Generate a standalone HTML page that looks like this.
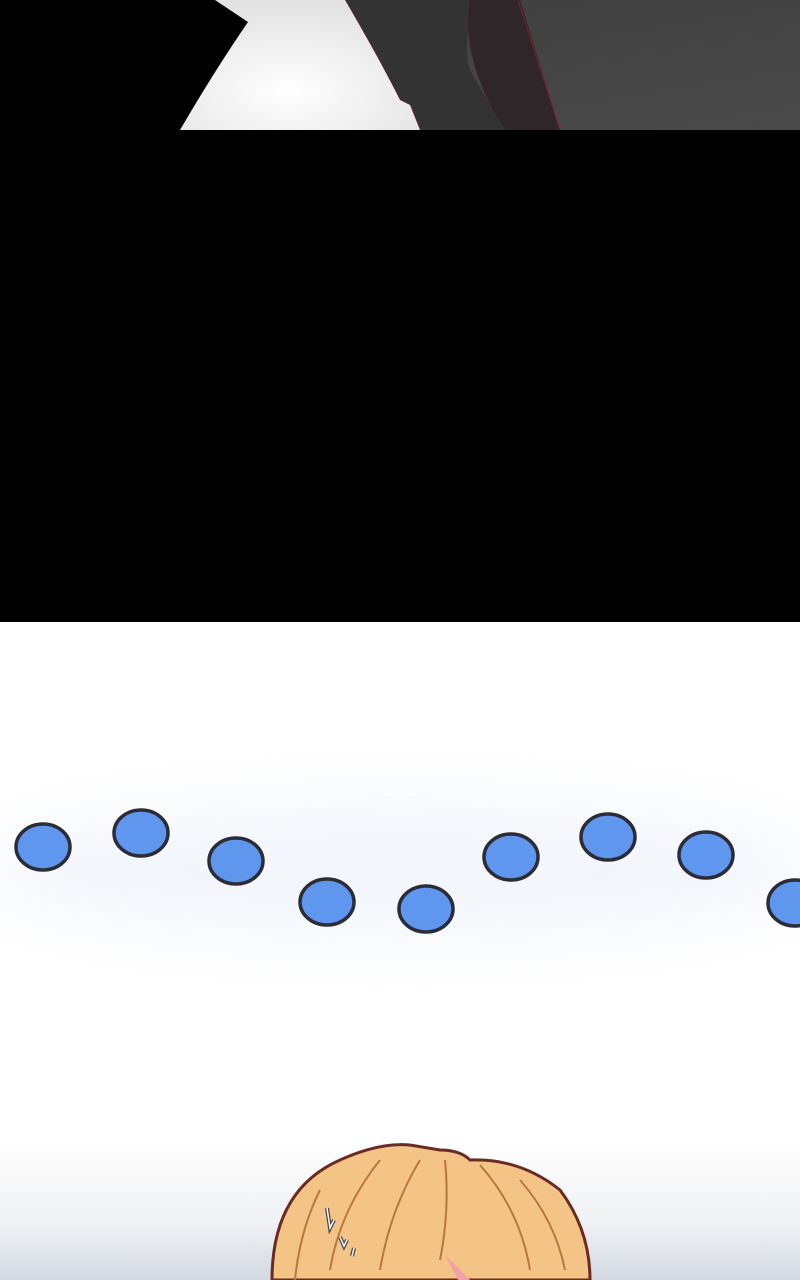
<!DOCTYPE html>
<html><head><style>html,body{margin:0;padding:0;width:800px;height:1280px;overflow:hidden;background:#fff}</style></head>
<body>
<svg width="800" height="1280" viewBox="0 0 800 1280" xmlns="http://www.w3.org/2000/svg">
<defs>
<linearGradient id="top" x1="0" y1="0" x2="1" y2="1"><stop offset="0" stop-color="#3c3c3c"/><stop offset="1" stop-color="#4a4a4a"/></linearGradient>
<radialGradient id="wht" cx="0.45" cy="0.7" r="0.7"><stop offset="0" stop-color="#fff"/><stop offset="1" stop-color="#e2e2e2"/></radialGradient>
<linearGradient id="bot" x1="0" y1="0" x2="0" y2="1"><stop offset="0" stop-color="#fff"/><stop offset="0.6" stop-color="#f0f1f3"/><stop offset="1" stop-color="#d3d8e2"/></linearGradient>
<filter id="glow" x="-50%" y="-50%" width="200%" height="200%"><feGaussianBlur stdDeviation="30"/></filter>
</defs>
<rect x="0" y="0" width="800" height="130" fill="url(#top)"/>
<path d="M340,0 L480,0 Q460,40 470,70 L505,130 L415,130 Q380,60 340,0 Z" fill="#333"/>
<path d="M470,0 L520,0 L560,130 L505,130 Q460,60 470,0 Z" fill="#2e2629"/>
<path d="M518,0 L560,130" stroke="#8a1a34" stroke-width="1"/>
<path d="M345,0 Q380,60 400,100 L410,105 L420,130" fill="none" stroke="#7a1a30" stroke-width="1"/>
<path d="M0,0 L215,0 L248,22 L225,70 L180,130 L0,130 Z" fill="#000"/>
<path d="M215,0 L345,0 Q380,60 400,100 L410,105 L420,130 L180,130 Q215,70 248,22 Z" fill="url(#wht)"/>
<rect x="0" y="130" width="800" height="492" fill="#000"/>
<rect x="0" y="622" width="800" height="658" fill="#fff"/>
<rect x="0" y="1140" width="800" height="140" fill="url(#bot)"/>
<ellipse cx="400" cy="870" rx="420" ry="70" fill="#eef2f9" filter="url(#glow)" opacity="0.7"/>
<g fill="#5f96ee" stroke="#2c2c36" stroke-width="3.5">
<ellipse cx="43" cy="847" rx="27" ry="23"/>
<ellipse cx="141" cy="833" rx="27" ry="23"/>
<ellipse cx="236" cy="861" rx="27" ry="23"/>
<ellipse cx="327" cy="902" rx="27" ry="23"/>
<ellipse cx="426" cy="909" rx="27" ry="23"/>
<ellipse cx="511" cy="857" rx="27" ry="23"/>
<ellipse cx="608" cy="837" rx="27" ry="23"/>
<ellipse cx="706" cy="855" rx="27" ry="23"/>
<ellipse cx="795" cy="903" rx="27" ry="23"/>
</g>
<path d="M272,1280 Q272,1190 340,1160 Q380,1142 410,1145 L440,1150 Q460,1150 470,1160 Q520,1158 560,1190 Q590,1230 590,1280 Z" fill="#f4c487" stroke="#6b2a22" stroke-width="3"/>
<path d="M445,1255 L458,1280 L470,1280 Z" fill="#f0a0a8"/>
<g stroke="#b9773f" stroke-width="2" fill="none">
<path d="M320,1190 Q300,1230 295,1280"/><path d="M380,1160 Q340,1210 330,1270"/>
<path d="M420,1160 Q390,1210 380,1270"/><path d="M445,1160 Q450,1210 440,1260"/>
<path d="M480,1165 Q520,1210 530,1270"/><path d="M520,1180 Q555,1220 565,1270"/>
</g>
<g stroke="#444" stroke-width="4" fill="none"><path d="M327,1208 L330,1228 L334,1220"/><path d="M340,1237 L344,1246 L347,1240"/><path d="M354,1248 L352,1256"/></g>
<g stroke="#fff" stroke-width="1.5" fill="none"><path d="M327,1208 L330,1228 L334,1220"/><path d="M340,1237 L344,1246 L347,1240"/><path d="M354,1248 L352,1256"/></g>
</svg>
</body></html>
